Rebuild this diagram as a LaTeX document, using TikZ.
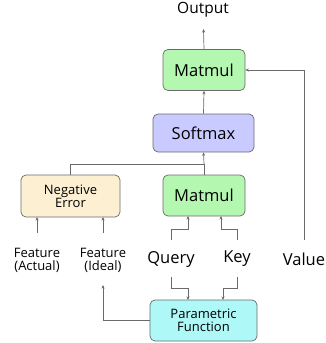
\documentclass[tikz,border=0pt]{standalone}
\usepackage{fontspec}
\setmainfont{Open Sans}
\usetikzlibrary{arrows.meta,positioning}

\definecolor{mmgreen}{HTML}{B4F7B0}
\definecolor{smblue}{HTML}{C9CAFF}
\definecolor{errcream}{HTML}{FDF0D2}
\definecolor{pfcyan}{HTML}{AEF8F8}
\definecolor{linegray}{HTML}{6A6A6A}

\tikzset{
    block/.style={draw=linegray, line width=0.7pt, rounded corners=5pt,
        align=center, inner sep=0pt},
    big/.style={font=\fontsize{16.5}{18}\selectfont},
    small/.style={font=\fontsize{13}{15}\selectfont},
    wire/.style={draw=linegray, line width=0.7pt},
    arr/.style={wire, -{Stealth[length=3.5pt,width=3pt]}}
}

\begin{document}
\begin{tikzpicture}[x=1pt,y=-1pt]
    \useasboundingbox (0,0) rectangle (325,343);
    % boxes
    \node[block, big, fill=mmgreen, minimum width=82pt, minimum height=41pt]
        (mmtop) at (204,70) {Matmul};
    \node[block, big, fill=smblue, minimum width=101pt, minimum height=38pt]
        (soft) at (203.5,133) {Softmax};
    \node[block, small, fill=errcream, minimum width=99pt, minimum height=42pt]
        (negerr) at (70.5,196) {Negative\\[-2pt]Error};
    \node[block, big, fill=mmgreen, minimum width=82pt, minimum height=41pt]
        (mmlow) at (204,195.5) {Matmul};
    \node[block, small, fill=pfcyan, minimum width=107pt, minimum height=41pt]
        (param) at (203.5,320.5) {Parametric\\[-2pt]Function};
    % labels
    \node[font=\fontsize{15.5}{17}\selectfont] (out) at (203,10) {Output};
    \node[small, align=center] (factual) at (37,260) {Feature\\[-2pt](Actual)};
    \node[small, align=center] (fideal) at (103,260) {Feature\\[-2pt](Ideal)};
    \node[big] (query) at (171,259) {Query};
    \node[big] (key) at (237,259) {Key};
    \node[big] (value) at (304,259) {Value};
    \coordinate (join) at (204,164);
    \coordinate (vfoot) at (304,240);

    % upper path
    \draw[arr] (mmtop.north) -- (203.5,29);
    \draw[arr] (soft.north) -- (mmtop.south);
    \draw[arr] (vfoot) -- (304,70) -- (mmtop.east);
    \draw[wire] (negerr.north) |- (join);
    \draw[wire] (mmlow.north) -- (join);
    \draw[arr] (join) -- (soft.south);
    % into the boxes
    \draw[arr] (37,233) -- (37,217);
    \draw[arr] (103,233) -- (103,217);
    \draw[arr] (171,240) |- (188,229) -- (188,216);
    \draw[arr] (237,240) |- (221,229) -- (221,216);
    % down to the function
    \draw[arr] (171,277) |- (188,288) -- (188,300);
    \draw[arr] (237,277) |- (223,288) -- (223,300);
    \draw[arr] (param.west) -| (103,285);
\end{tikzpicture}
\end{document}
